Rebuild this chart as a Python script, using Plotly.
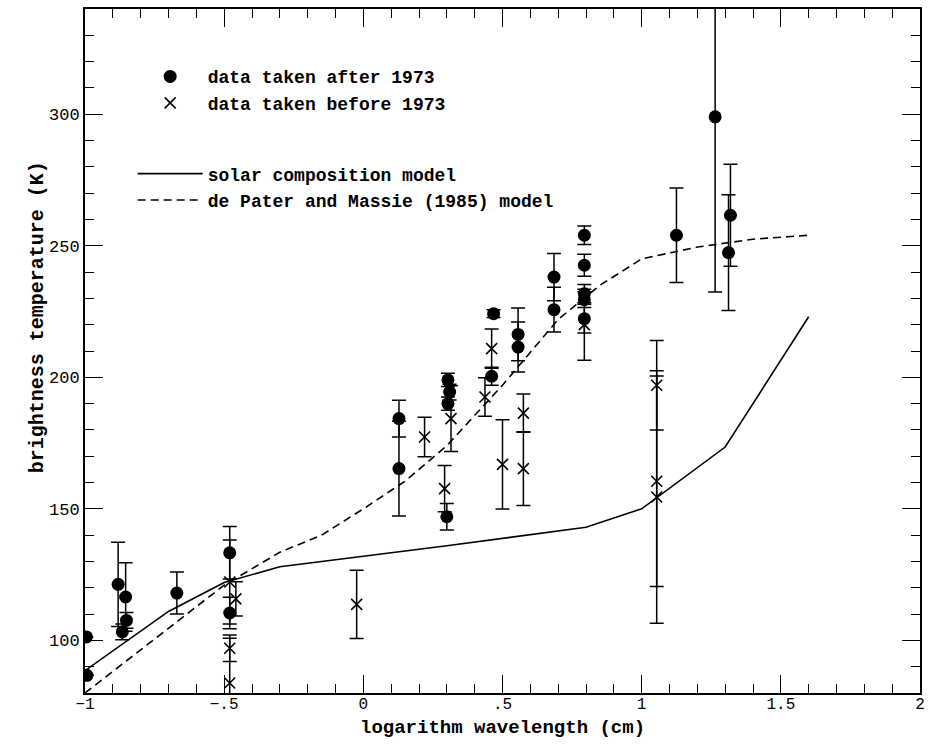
import plotly.graph_objects as go

# ---- data ----
after_x = [-0.995, -0.993, -0.881, -0.854, -0.851, -0.866, -0.670, -0.480, -0.480,
           0.128, 0.128, 0.304, 0.310, 0.304, 0.300, 0.461, 0.468, 0.556, 0.556,
           0.685, 0.685, 0.794, 0.794, 0.794, 0.794, 0.794, 1.125, 1.264, 1.319, 1.312]
after_y = [101.3, 86.7, 121.3, 116.5, 107.6, 103.2, 118.0, 133.3, 110.4,
           184.3, 165.3, 199.0, 194.4, 190.0, 147.0, 200.4, 224.2, 216.3, 211.5,
           238.1, 225.7, 254.0, 242.6, 231.8, 229.5, 222.3, 254.0, 299.0, 261.6, 247.4]
after_err = [0, 0, 16, 13, 3, 3, 8, 10, 6,
             7, 18, 2.5, 3, 2.5, 5, 3.4, 1.5, 10, 9.5,
             9, 8.5, 3.5, 4.2, 3.5, 3, 5.5, 18, 66.6, 19.4, 22]

before_x = [-0.480, -0.458, -0.480, -0.480, -0.024, 0.220, 0.292, 0.315, 0.437,
            0.461, 0.500, 0.575, 0.575, 0.794, 1.054, 1.054, 1.054]
before_y = [122.2, 115.8, 97.0, 83.8, 113.7, 177.3, 157.7, 184.3, 192.5,
            210.9, 166.9, 186.4, 165.3, 220.0, 197.0, 160.5, 154.5]
before_err = [16, 6.5, 5, 17, 13, 7.5, 8.8, 12.5, 7.3,
              7.5, 17, 7.3, 14, 13.5, 17, 40, 48]

solar_x = [-1.0, -0.7, -0.5, -0.3, 0.0, 0.3, 0.8, 1.0, 1.3, 1.6]
solar_y = [88.5, 111.0, 122.0, 128.0, 132.0, 136.0, 143.0, 150.0, 173.5, 223.0]

dp_x = [-1.0, -0.5, -0.3, -0.15, 0.0, 0.15, 0.3, 0.5, 0.7, 0.85, 1.0, 1.2, 1.4, 1.6]
dp_y = [80.0, 121.0, 133.5, 140.0, 150.0, 160.5, 174.0, 197.0, 222.0, 235.0, 245.0, 249.5, 252.5, 254.0]

x_tickvals = [-1, -0.5, 0, 0.5, 1, 1.5, 2]
x_ticktext = ["\u22121", "\u2212.5", "0", ".5", "1", "1.5", "2"]
y_tickvals = [100, 150, 200, 250, 300]

FONT = "Liberation Mono"

fig = go.Figure()

fig.add_trace(go.Scatter(
    x=solar_x, y=solar_y, mode="lines", name="solar composition model",
    line=dict(color="black", width=1.6), legend="legend2"))
fig.add_trace(go.Scatter(
    x=dp_x, y=dp_y, mode="lines", name="de Pater and Massie (1985) model",
    line=dict(color="black", width=1.6, dash="8px,5px"), legend="legend2"))

fig.add_trace(go.Scatter(
    x=after_x, y=after_y, mode="markers", name="data taken after 1973",
    marker=dict(symbol="circle", size=13, color="black"),
    error_y=dict(type="data", array=after_err, visible=True, color="black",
                 thickness=1.5, width=7),
    legend="legend"))
fig.add_trace(go.Scatter(
    x=before_x, y=before_y, mode="markers", name="data taken before 1973",
    marker=dict(symbol="x-thin", size=11, color="black",
                line=dict(color="black", width=1.6)),
    error_y=dict(type="data", array=before_err, visible=True, color="black",
                 thickness=1.5, width=7),
    legend="legend"))

axis_common = dict(
    showline=True, linecolor="black", linewidth=2, mirror="ticks",
    ticks="inside", ticklen=18, tickwidth=1.3, tickcolor="black",
    showgrid=False, zeroline=False,
)

fig.update_xaxes(
    range=[-1, 2], tickvals=x_tickvals, ticktext=x_ticktext,
    tickfont=dict(family=FONT, size=16, color="black"), ticklabelstandoff=-5,
    minor=dict(ticks="inside", ticklen=9, dtick=0.1, tick0=-1,
               tickcolor="black", tickwidth=1.2, showgrid=False),
    **axis_common)
fig.update_yaxes(
    range=[80, 340], tickvals=y_tickvals,
    tickfont=dict(family=FONT, size=17, color="black"),
    minor=dict(ticks="inside", ticklen=9, dtick=10, tick0=80,
               tickcolor="black", tickwidth=1.2, showgrid=False),
    **axis_common)

title_font = dict(family=FONT, size=19, color="black", weight="bold")
legend_font = dict(family=FONT, size=18, color="black", weight="bold")

fig.update_layout(
    width=932, height=745,
    margin=dict(l=85, r=7, t=8, b=52),
    paper_bgcolor="white", plot_bgcolor="white",
    font=dict(family=FONT, color="black"),
    legend=dict(x=0.0571, y=0.928, xanchor="left", yanchor="top", itemwidth=65,
                bgcolor="rgba(0,0,0,0)", font=legend_font),
    legend2=dict(x=0.0571, y=0.786, xanchor="left", yanchor="top", itemwidth=65,
                 bgcolor="rgba(0,0,0,0)", font=legend_font),
    annotations=[
        dict(text="logarithm wavelength (cm)", xref="paper", yref="paper",
             x=0.5, y=-0.0505, xanchor="center", yanchor="middle",
             showarrow=False, font=title_font),
        dict(text="brightness temperature (K)", xref="paper", yref="paper",
             x=-0.057, y=0.55, xanchor="center", yanchor="middle", textangle=-90,
             showarrow=False, font=dict(family=FONT, size=20, color="black", weight="bold")),
    ],
)

fig.write_html("out.html")
